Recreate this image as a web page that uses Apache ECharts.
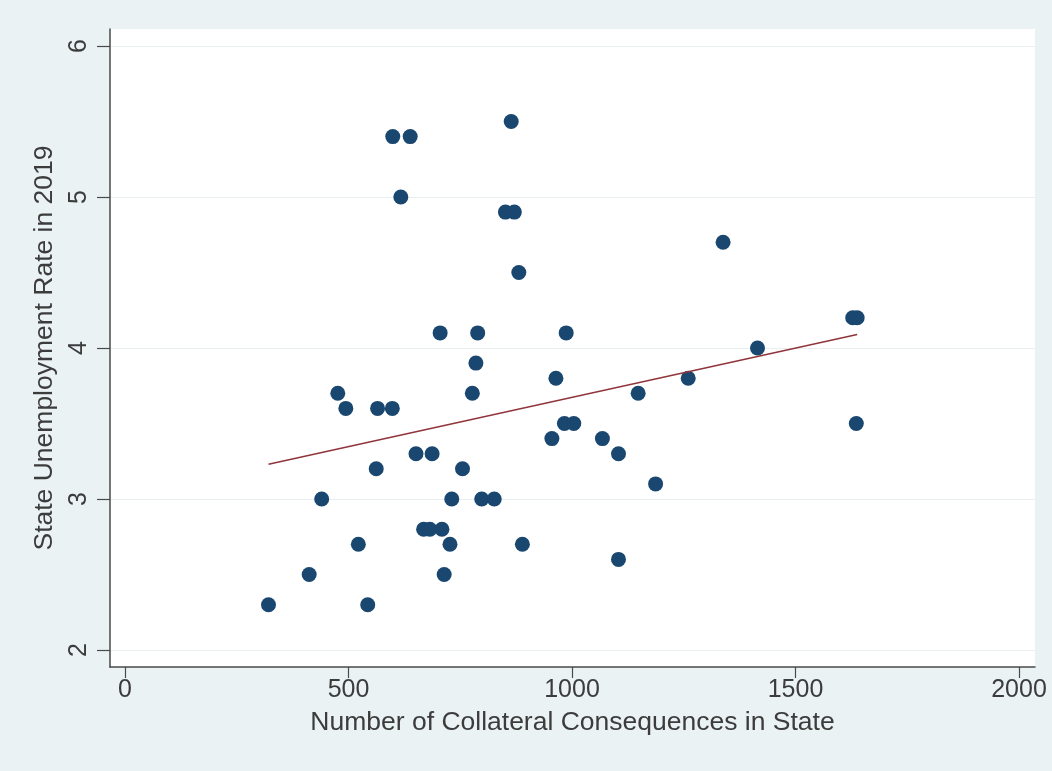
<!DOCTYPE html>
<html><head><meta charset="utf-8">
<script src="https://cdn.jsdelivr.net/npm/echarts@6/dist/echarts.min.js"></script>
<style>html,body{margin:0;padding:0;background:#eaf2f3;} #c{width:1052px;height:771px;}</style>
</head><body><div id="c"></div>
<script>
// Data
const collateralCount = [321, 543, 412, 714, 1104, 522, 727, 889, 668, 682, 709, 440, 731, 798, 826, 1187, 562, 755, 651, 687, 1104, 955, 1068, 983, 1004, 1636, 494, 565, 598, 476, 777, 1148, 964, 1260, 785, 1415, 705, 789, 987, 1628, 1638, 881, 1338, 851, 871, 617, 599, 638, 864];
const unemploymentRate = [2.3, 2.3, 2.5, 2.5, 2.6, 2.7, 2.7, 2.7, 2.8, 2.8, 2.8, 3.0, 3.0, 3.0, 3.0, 3.1, 3.2, 3.2, 3.3, 3.3, 3.3, 3.4, 3.4, 3.5, 3.5, 3.5, 3.6, 3.6, 3.6, 3.7, 3.7, 3.7, 3.8, 3.8, 3.9, 4.0, 4.1, 4.1, 4.1, 4.2, 4.2, 4.5, 4.7, 4.9, 4.9, 5.0, 5.4, 5.4, 5.5];
const fitX = [321, 1638];
const fitY = [3.23, 4.09];
const xTicks = [0, 500, 1000, 1500, 2000];
const yTicks = [2, 3, 4, 5, 6];
const xTitle = 'Number of Collateral Consequences in State';
const yTitle = 'State Unemployment Rate in 2019';

const font = "'Liberation Sans', Arial, sans-serif";
const textColor = '#3c3c3c';
const axisColor = '#4a4a4a';

const chart = echarts.init(document.getElementById('c'), null, {renderer: 'canvas'});
chart.setOption({
  backgroundColor: '#eaf2f3',
  animation: false,
  grid: {left: 110, right: 17, top: 29, bottom: 104, show: true, backgroundColor: '#ffffff', borderWidth: 0},
  xAxis: {
    type: 'value', min: -33.6, max: 2035.8,
    name: xTitle, nameLocation: 'middle', nameGap: 42,
    nameTextStyle: {fontFamily: font, fontSize: 26.5, color: textColor},
    axisLine: {show: true, onZero: false, lineStyle: {color: axisColor, width: 1.5}},
    axisTick: {show: true, customValues: xTicks, length: 11, lineStyle: {color: axisColor, width: 1.2}},
    axisLabel: {customValues: xTicks, margin: 11, fontFamily: font, fontSize: 25, color: textColor,
      formatter: v => String(v)},
    splitLine: {show: false}
  },
  yAxis: {
    type: 'value', min: 1.8874, max: 6.1126,
    name: yTitle, nameLocation: 'middle', nameGap: 52,
    nameTextStyle: {fontFamily: font, fontSize: 26.5, color: textColor},
    axisLine: {show: true, onZero: false, lineStyle: {color: axisColor, width: 1.5}},
    axisTick: {show: true, customValues: yTicks, length: 13, lineStyle: {color: axisColor, width: 1.2}},
    axisLabel: {customValues: yTicks, rotate: 90, margin: 18, fontFamily: font, fontSize: 25, color: textColor,
      formatter: v => String(v)},
    splitLine: {show: true, lineStyle: {color: '#e9eef0', width: 1.2}}
  },
  series: [
    {
      type: 'scatter', symbol: 'circle', symbolSize: 15,
      itemStyle: {color: '#1a476f', opacity: 1},
      data: collateralCount.map((x, i) => [x, unemploymentRate[i]]),
      z: 3
    },
    {
      type: 'line', symbol: 'none',
      lineStyle: {color: '#90353b', width: 1.5},
      data: fitX.map((x, i) => [x, fitY[i]]),
      z: 4
    }
  ]
});
</script>
</body></html>
